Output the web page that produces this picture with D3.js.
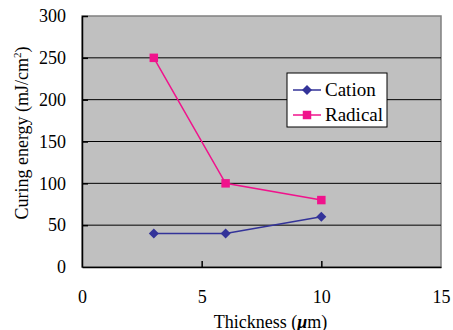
<!DOCTYPE html>
<html>
<head>
<meta charset="utf-8">
<script src="https://cdn.jsdelivr.net/npm/d3@7"></script>
<style>
  body { margin: 0; background: #fff; }
  svg text { font-family: "Liberation Serif", "DejaVu Serif", serif !important; fill: #000; }
</style>
</head>
<body>
<div id="chart-area"></div>
<script>
// data
const thickness = [3, 6, 10];
const cation = [40, 40, 60];
const radical = [250, 100, 80];
const xTicks = [0, 5, 10, 15];
const yTicks = [0, 50, 100, 150, 200, 250, 300];
const seriesNames = ["Cation", "Radical"];

(function () {
  const W = 453, H = 330;
  const margin = { top: 16, right: 12, bottom: 63, left: 82 };
  const width = W - margin.left - margin.right;
  const height = H - margin.top - margin.bottom;
  const FONT = "Liberation Serif";

  const svg = d3.select("#chart-area").append("svg")
    .attr("width", W).attr("height", H);
  const g = svg.append("g")
    .attr("transform", `translate(${margin.left},${margin.top})`);

  const xScale = d3.scaleLinear().domain([0, 15]).range([0, width]);
  const yScale = d3.scaleLinear().domain([0, 300]).range([height, 0]);

  // plot background
  g.append("rect").attr("width", width).attr("height", height)
    .attr("fill", "#c0c0c0").attr("stroke", "#808080").attr("stroke-width", 1.5);

  // gridlines
  g.selectAll(".grid").data(yTicks.filter(d => d > 0 && d < 300)).enter()
    .append("line")
    .attr("x1", 0).attr("x2", width)
    .attr("y1", d => yScale(d)).attr("y2", d => yScale(d))
    .attr("stroke", "#000").attr("stroke-width", 1);

  // axes
  const xAxis = d3.axisBottom(xScale).tickValues(xTicks).tickSizeInner(-6).tickSizeOuter(0).tickPadding(23);
  const yAxis = d3.axisLeft(yScale).tickValues(yTicks).tickSizeInner(-6).tickSizeOuter(0).tickPadding(16);

  const gx = g.append("g").attr("transform", `translate(0,${height})`).call(xAxis);
  const gy = g.append("g").call(yAxis);
  [gx, gy].forEach(a => {
    a.attr("font-family", FONT).attr("font-size", 18);
    a.select(".domain").attr("stroke", "#000").attr("stroke-width", 1.5);
    a.selectAll(".tick line").attr("stroke", "#000").attr("stroke-width", 1.5);
    a.selectAll("text").attr("font-size", 18).style("font-family", FONT);
  });
  gx.selectAll(".tick").filter(d => d === 0 || d === 15).select("line").remove();
  gy.selectAll(".tick").filter(d => d === 0).select("line").remove();

  // axis titles
  svg.append("text")
    .attr("x", margin.left + width / 2 + 9).attr("y", 328)
    .attr("text-anchor", "middle").attr("font-size", 18).style("font-family", FONT)
    .html('Thickness (<tspan font-style="italic" font-weight="bold">μ</tspan>m)');

  svg.append("text")
    .attr("transform", `translate(28,133) rotate(-90)`)
    .attr("text-anchor", "middle").attr("font-size", 18).style("font-family", FONT)
    .html('Curing energy (mJ/cm<tspan font-size="11" dy="-7">2</tspan><tspan dy="7">)</tspan>');

  // square-ish diamond like the Excel marker
  const diamond = {
    draw(ctx, size) {
      const r = Math.sqrt(size / 2);
      ctx.moveTo(0, -r); ctx.lineTo(r, 0); ctx.lineTo(0, r); ctx.lineTo(-r, 0); ctx.closePath();
    }
  };

  // series
  const series = [
    { name: seriesNames[0], values: cation, color: "#333399", shape: diamond, size: 50 },
    { name: seriesNames[1], values: radical, color: "#f0138c", shape: d3.symbolSquare, size: 72 }
  ];

  const line = d3.line().x(d => xScale(d[0])).y(d => yScale(d[1]));

  series.forEach(s => {
    const pts = thickness.map((t, i) => [t, s.values[i]]);
    g.append("path").datum(pts)
      .attr("d", line).attr("fill", "none")
      .attr("stroke", s.color).attr("stroke-width", 1.5);
    g.selectAll(null).data(pts).enter().append("path")
      .attr("transform", d => `translate(${xScale(d[0])},${yScale(d[1])})`)
      .attr("d", d3.symbol().type(s.shape).size(s.size))
      .attr("fill", s.color);
  });

  // legend
  const lg = svg.append("g").attr("transform", "translate(287,73)");
  lg.append("rect").attr("width", 100).attr("height", 54)
    .attr("fill", "#fff").attr("stroke", "#000").attr("stroke-width", 1);
  series.forEach((s, i) => {
    const yy = 17 + i * 25;
    lg.append("line").attr("x1", 6).attr("x2", 34).attr("y1", yy).attr("y2", yy)
      .attr("stroke", s.color).attr("stroke-width", 1.5);
    lg.append("path").attr("transform", `translate(20,${yy})`)
      .attr("d", d3.symbol().type(s.shape).size(s.size)).attr("fill", s.color);
    lg.append("text").attr("x", 38).attr("y", yy + 6)
      .attr("font-size", 19).style("font-family", FONT).text(s.name);
  });
})();
</script>
</body>
</html>
